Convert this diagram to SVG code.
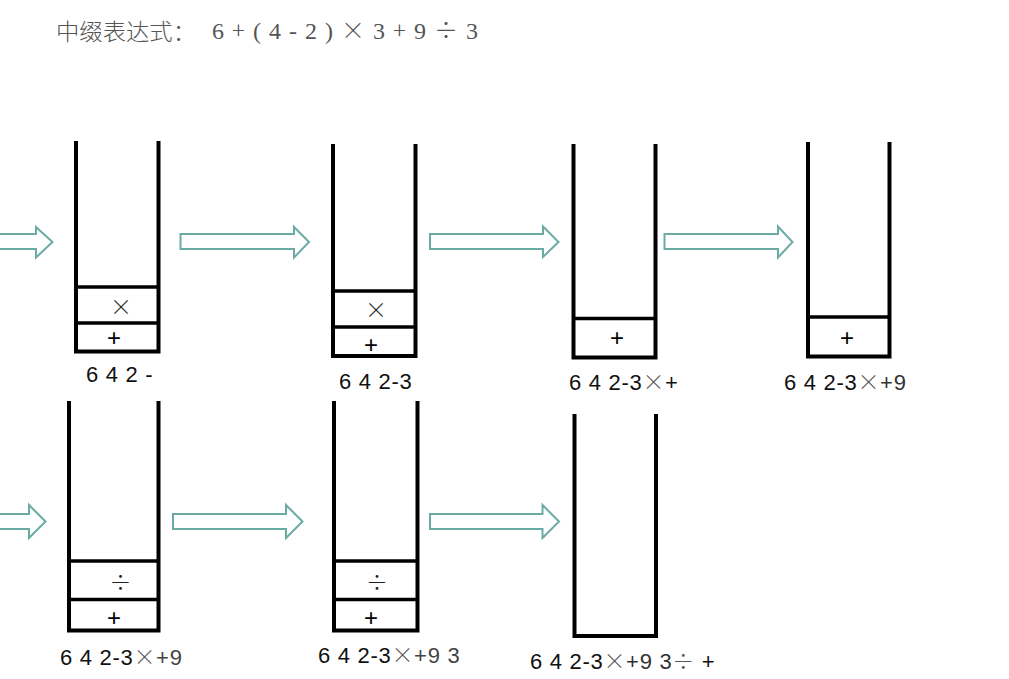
<svg xmlns="http://www.w3.org/2000/svg" width="1009" height="679" viewBox="0 0 1009 679">
<style>
.wall{fill:none;stroke:#000;stroke-width:4;stroke-linejoin:miter;stroke-linecap:butt}
.cell{stroke:#000;stroke-width:3.5}
.arr{fill:#fff;stroke:#6aaba4;stroke-width:2}
.sym{font-family:"Liberation Sans",Arial,sans-serif;font-size:24px;fill:#000;text-anchor:middle;dominant-baseline:central}
.op{font-family:"Noto Sans CJK SC","DejaVu Sans",sans-serif;font-weight:300;font-size:22px;fill:#222;text-anchor:middle;dominant-baseline:central}
.lbl{font-family:"Liberation Sans",Arial,sans-serif;font-size:22px;fill:#111;letter-spacing:0.7px}
.lo{font-family:"Noto Sans CJK SC","DejaVu Sans",sans-serif;font-weight:300;fill:#555}
.title{font-size:24px;fill:#555}
.tcj{font-family:"Noto Sans CJK SC",sans-serif;font-weight:300}
</style>
<rect width="1009" height="679" fill="#fff"/>
<g id="title">
<text class="title" x="56" y="40" textLength="140" lengthAdjust="spacingAndGlyphs" style="font-family:'Noto Sans CJK SC','Liberation Serif',serif;font-weight:300;font-size:23px">中缀表达式：</text>
<text class="title" x="212" y="39" textLength="266" lengthAdjust="spacing" style="font-family:'Liberation Serif','Noto Sans CJK SC',serif">6 <tspan class="tcj">+</tspan> ( 4 - 2 ) <tspan class="tcj">×</tspan> 3 <tspan class="tcj">+</tspan> 9 <tspan class="tcj">÷</tspan> 3</text>
</g>
<g id="connectors">
<path class="arr" d="M-3,234 H36 V227 L52.5,242 L36,257.5 V249 H-3 Z"/>
<path class="arr" d="M180.5,234 H294 V227 L309,242 L294,257.5 V249 H180.5 Z"/>
<path class="arr" d="M430,234 H543 V226.5 L558.5,242 L543,257 V249 H430 Z"/>
<path class="arr" d="M664.5,234 H778 V226.5 L792.5,242 L778,257.5 V249 H664.5 Z"/>
<path class="arr" d="M-3,514 H29 V505 L45.5,521.5 L29,538 V529 H-3 Z"/>
<path class="arr" d="M173,514 H286 V505 L302.5,521.5 L286,538 V529 H173 Z"/>
<path class="arr" d="M430,514 H542.5 V505 L559,521.5 L542.5,538 V529 H430 Z"/>
</g>
<g id="stack1">
<path class="wall" d="M76,141 V351.5 H158.5 V141"/>
<line class="cell" x1="76" y1="287" x2="158.5" y2="287"/>
<line class="cell" x1="76" y1="323" x2="158.5" y2="323"/>
<text class="op" x="121" y="305">×</text>
<text class="sym" x="114" y="337">+</text>
<text class="lbl" x="86" y="382">6 4 2 -</text>
</g>
<g id="stack2">
<path class="wall" d="M333,144 V356 H415.5 V144"/>
<line class="cell" x1="333" y1="291" x2="415.5" y2="291"/>
<line class="cell" x1="333" y1="327" x2="415.5" y2="327"/>
<text class="op" x="376" y="308">×</text>
<text class="sym" x="371" y="344">+</text>
<text class="lbl" x="339" y="389">6 4 2-3</text>
</g>
<g id="stack3">
<path class="wall" d="M573.5,144 V357.5 H655.5 V144"/>
<line class="cell" x1="573.5" y1="318.5" x2="655.5" y2="318.5"/>
<text class="sym" x="617" y="337">+</text>
<text class="lbl" x="569" y="390">6 4 2-3<tspan class="lo">×</tspan>+</text>
</g>
<g id="stack4">
<path class="wall" d="M808,142 V356.5 H889.5 V142"/>
<line class="cell" x1="808" y1="317" x2="889.5" y2="317"/>
<text class="sym" x="847" y="337">+</text>
<text class="lbl" x="784" y="390">6 4 2-3<tspan class="lo">×</tspan><tspan fill="#333">+9</tspan></text>
</g>
<g id="stack5">
<path class="wall" d="M69,401 V630.5 H158.5 V401"/>
<line class="cell" x1="69" y1="561" x2="158.5" y2="561"/>
<line class="cell" x1="69" y1="599.5" x2="158.5" y2="599.5"/>
<text class="op" x="120.5" y="580">÷</text>
<text class="sym" x="114" y="617">+</text>
<text class="lbl" x="60" y="665">6 4 2-3<tspan class="lo">×</tspan><tspan fill="#444">+9</tspan></text>
</g>
<g id="stack6">
<path class="wall" d="M334,401 V630.5 H417.5 V401"/>
<line class="cell" x1="334" y1="561" x2="417.5" y2="561"/>
<line class="cell" x1="334" y1="599.5" x2="417.5" y2="599.5"/>
<text class="op" x="377" y="580">÷</text>
<text class="sym" x="371" y="617">+</text>
<text class="lbl" x="318" y="663">6 4 2-3<tspan class="lo">×</tspan><tspan fill="#444">+9 3</tspan></text>
</g>
<g id="stack7">
<path class="wall" d="M574.5,414 V636 H656 V414"/>
<text class="lbl" x="530" y="669">6 4 2-3<tspan class="lo">×</tspan><tspan fill="#333">+9 3</tspan><tspan class="lo">÷</tspan> +</text>
</g>
</svg>
